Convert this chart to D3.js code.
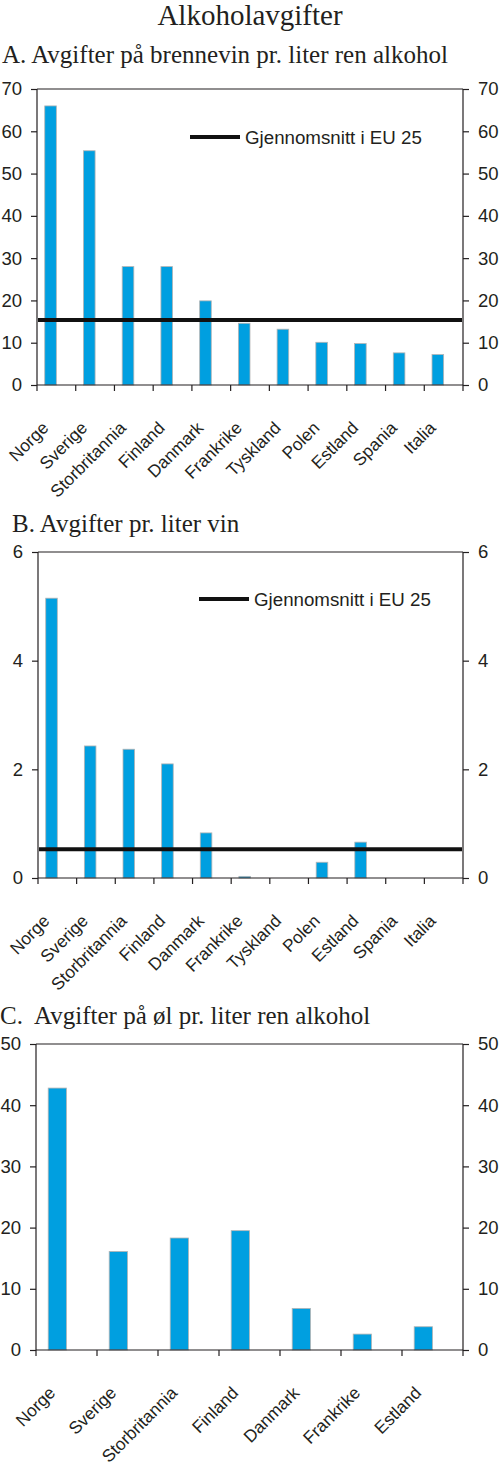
<!DOCTYPE html>
<html>
<head>
<meta charset="utf-8">
<script src="https://cdn.jsdelivr.net/npm/d3@7"></script>
<style>
  body { margin: 0; background: #fff; }
  svg text { font-family: Arial, "Liberation Sans", Helvetica, sans-serif; fill: #231f20; }
  svg text.serif { font-family: "Times New Roman", "Liberation Serif", serif; }
</style>
</head>
<body>
<div id="chart"></div>
<script>
const width = 500;
const height = 1469;

// data
const landAB = ["Norge", "Sverige", "Storbritannia", "Finland", "Danmark", "Frankrike", "Tyskland", "Polen", "Estland", "Spania", "Italia"];
const brennevin = [66.0, 55.4, 28.0, 28.0, 19.9, 14.6, 13.2, 10.1, 9.8, 7.6, 7.2];
const snittBrennevin = 15.4;
const ticksA = [0, 10, 20, 30, 40, 50, 60, 70];

const vin = [5.15, 2.43, 2.37, 2.10, 0.83, 0.03, 0, 0.29, 0.66, 0, 0];
const snittVin = 0.53;
const ticksB = [0, 2, 4, 6];

const landC = ["Norge", "Sverige", "Storbritannia", "Finland", "Danmark", "Frankrike", "Estland"];
const ol = [42.8, 16.1, 18.3, 19.5, 6.8, 2.6, 3.8];
const ticksC = [0, 10, 20, 30, 40, 50];

const legendText = "Gjennomsnitt i EU 25";
const BAR_COLOR = "#009fe0";

const svg = d3.select("#chart")
  .append("svg")
  .attr("width", width)
  .attr("height", height);

// the sans font on this machine may run narrower than Arial: size the text so that
// the legend comes out as wide as in the original (about 177px)
const probe = svg.append("text").style("font-size", "20px").text(legendText);
const probeWidth = probe.node().getComputedTextLength() || 189;
probe.remove();
const K = Math.min(1.25, Math.max(0.9, (177 / probeWidth) * 20 / 18.7));
const fs = px => (px * K).toFixed(2) + "px";

svg.append("text")
  .classed("serif", true)
  .attr("x", 250)
  .attr("y", 25)
  .attr("text-anchor", "middle")
  .style("font-size", "29px")
  .text("Alkoholavgifter");

function drawPanel(p) {
  const g = svg.append("g");

  g.append("text")
    .classed("serif", true)
    .attr("x", p.titleX)
    .attr("y", p.titleY)
    .attr("xml:space", "preserve")
    .style("white-space", "pre")
    .style("font-size", "25px")
    .text(p.title);

  const x = d3.scaleBand().domain(p.cats).range([p.left, p.right]);
  const y = d3.scaleLinear().domain([0, p.max]).range([p.bottom, p.top]);
  const bw = x.bandwidth();

  // bars
  g.selectAll(".bar")
    .data(p.values.map((v, i) => ({ cat: p.cats[i], v })))
    .enter()
    .filter(d => d.v > 0)
    .append("rect")
    .classed("bar", true)
    .attr("x", d => x(d.cat) + bw * 0.2)
    .attr("width", bw * 0.3)
    .attr("y", d => y(d.v))
    .attr("height", d => y(0) - y(d.v))
    .attr("fill", BAR_COLOR)
    .attr("stroke", "#b4b4b4")
    .attr("stroke-width", 0.8);

  // frame
  g.append("line")
    .attr("x1", p.left).attr("x2", p.right)
    .attr("y1", p.top).attr("y2", p.top)
    .attr("stroke", "#231f20").attr("stroke-width", 1.2);

  const left = g.append("g")
    .attr("transform", `translate(${p.left},0)`)
    .call(d3.axisLeft(y).tickValues(p.ticks).tickSize(6).tickPadding(9).tickFormat(d3.format("d")));
  const right = g.append("g")
    .attr("transform", `translate(${p.right},0)`)
    .call(d3.axisRight(y).tickValues(p.ticks).tickSize(6).tickPadding(9).tickFormat(d3.format("d")));

  [left, right].forEach(a => {
    a.attr("font-family", null);
    a.select(".domain").attr("stroke", "#231f20").attr("stroke-width", 1.2)
      .attr("d", `M0,${p.top}V${p.bottom}`);
    a.selectAll(".tick line").attr("stroke", "#231f20").attr("stroke-width", 1.2);
    a.selectAll(".tick text").style("font-size", fs(18.5)).attr("fill", "#231f20");
  });

  // category axis with ticks on the band edges
  g.append("line")
    .attr("x1", p.left).attr("x2", p.right)
    .attr("y1", p.bottom).attr("y2", p.bottom)
    .attr("stroke", "#231f20").attr("stroke-width", 1.2);

  g.selectAll(".xtick")
    .data(p.cats.map(c => x(c)).concat([p.right]))
    .enter()
    .append("line")
    .classed("xtick", true)
    .attr("x1", d => d).attr("x2", d => d)
    .attr("y1", p.bottom).attr("y2", p.bottom + 6)
    .attr("stroke", "#231f20").attr("stroke-width", 1.2);

  g.selectAll(".xlabel")
    .data(p.cats)
    .enter()
    .append("text")
    .classed("xlabel", true)
    .attr("text-anchor", "end")
    .style("font-size", fs(17.3))
    .attr("transform", d => `translate(${x(d) + bw * 0.35 - 1},${p.bottom + 44}) rotate(-45)`)
    .text(d => d);

  // EU average line and legend
  if (p.avg !== undefined) {
    g.append("line")
      .attr("x1", p.left + 1).attr("x2", p.right - 1)
      .attr("y1", y(p.avg)).attr("y2", y(p.avg))
      .attr("stroke", "#111").attr("stroke-width", 4);

    g.append("line")
      .attr("x1", p.legX).attr("x2", p.legX + 50)
      .attr("y1", p.legY).attr("y2", p.legY)
      .attr("stroke", "#111").attr("stroke-width", 4);

    g.append("text")
      .attr("x", p.legX + 55)
      .attr("y", p.legY)
      .attr("dy", "0.35em")
      .style("font-size", fs(18.7))
      .text(legendText);
  }
}

drawPanel({
  title: "A. Avgifter på brennevin pr. liter ren alkohol",
  titleX: 2, titleY: 63,
  cats: landAB, values: brennevin, avg: snittBrennevin,
  max: 70, ticks: ticksA,
  left: 37, right: 463, top: 89, bottom: 385,
  legX: 190, legY: 137
});

drawPanel({
  title: "B. Avgifter pr. liter vin",
  titleX: 12, titleY: 532,
  cats: landAB, values: vin, avg: snittVin,
  max: 6, ticks: ticksB,
  left: 38, right: 463, top: 552, bottom: 878,
  legX: 199, legY: 599
});

drawPanel({
  title: "C.  Avgifter på øl pr. liter ren alkohol",
  titleX: 0, titleY: 1024,
  cats: landC, values: ol,
  max: 50, ticks: ticksC,
  left: 36, right: 463, top: 1044, bottom: 1350
});
</script>
</body>
</html>
